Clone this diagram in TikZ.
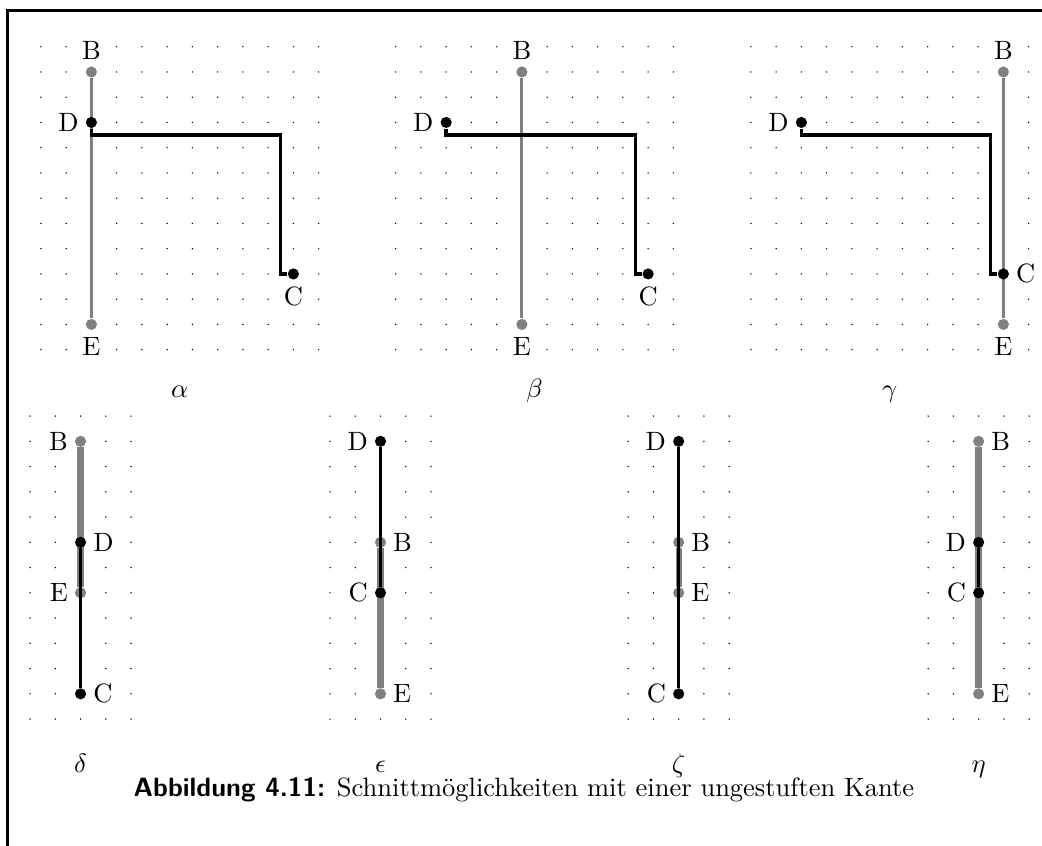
\documentclass[tikz,border=0pt]{standalone}
\usetikzlibrary{positioning}
\begin{document}
\begin{tikzpicture}[x=0.335cm,y=0.335cm,
    gpt/.style={circle,fill=gray,inner sep=0pt,minimum size=4.2pt},
    bpt/.style={circle,fill=black,inner sep=0pt,minimum size=4.2pt},
    lbl/.style={fill=white,inner sep=1pt},
    edge/.style={gray,line width=1.2pt},
    thickedge/.style={gray,line width=2.4pt},
    cut/.style={black,line width=1.25pt}]
  \useasboundingbox (0,0) rectangle (41.27,-33.5);
  \draw[line width=1.1pt] (0.3,-33.5) |- (41.27,-0.42);
  % dot grids, 12 x 13 above and 5 x 13 below
  \foreach \x in {1.62,15.67,29.74}
    \foreach \i in {0,...,11}
      \foreach \j in {0,...,12}
        \fill (\x+\i,-1.85-\j) circle (0.3pt);
  \foreach \x in {1.19,13.07,24.88,36.76}
    \foreach \i in {0,...,4}
      \foreach \j in {0,...,12}
        \fill (\x+\i,-16.48-\j) circle (0.3pt);
  % alpha
  \begin{scope}[shift={(1.62,-1.85)}]
    \node[gpt] (aB) at (2,-1) {};
    \node[gpt] (aE) at (2,-11) {};
    \draw[edge] (aB) -- (aE);
    \node[bpt] (aD) at (2,-3) {};
    \node[bpt] (aC) at (10,-9) {};
    \draw[cut] (aD) -- ++(0,-0.5) -| ([xshift=-0.1675cm]aC.center) -- (aC);
    \node[lbl,above=1.3pt of aB] (aBl) {B};
    \node[lbl,below=1.3pt of aE] (aEl) {E};
    \node[lbl,left=1.3pt of aD] (aDl) {D};
    \node[lbl,below=1.3pt of aC] (aCl) {C};
    \node[anchor=base] (alpha) at (5.5,-13.91) {$\alpha$};
  \end{scope}
  % beta
  \begin{scope}[shift={(15.67,-1.85)}]
    \node[gpt] (bB) at (5,-1) {};
    \node[gpt] (bE) at (5,-11) {};
    \draw[edge] (bB) -- (bE);
    \node[bpt] (bD) at (2,-3) {};
    \node[bpt] (bC) at (10,-9) {};
    \draw[cut] (bD) -- ++(0,-0.5) -| ([xshift=-0.1675cm]bC.center) -- (bC);
    \node[lbl,above=1.3pt of bB] (bBl) {B};
    \node[lbl,below=1.3pt of bE] (bEl) {E};
    \node[lbl,left=1.3pt of bD] (bDl) {D};
    \node[lbl,below=1.3pt of bC] (bCl) {C};
    \node[anchor=base] (beta) at (5.5,-13.91) {$\beta$};
  \end{scope}
  % gamma
  \begin{scope}[shift={(29.74,-1.85)}]
    \node[gpt] (gB) at (10,-1) {};
    \node[gpt] (gE) at (10,-11) {};
    \draw[edge] (gB) -- (gE);
    \node[bpt] (gD) at (2,-3) {};
    \node[bpt] (gC) at (10,-9) {};
    \draw[cut] (gD) -- ++(0,-0.5) -| ([xshift=-0.1675cm]gC.center) -- (gC);
    \node[lbl,above=1.3pt of gB] (gBl) {B};
    \node[lbl,below=1.3pt of gE] (gEl) {E};
    \node[lbl,left=1.3pt of gD] (gDl) {D};
    \node[lbl,right=1.3pt of gC] (gCl) {C};
    \node[anchor=base] (gamma) at (5.5,-13.91) {$\gamma$};
  \end{scope}
  % delta
  \begin{scope}[shift={(1.19,-16.48)}]
    \node[gpt] (dB) at (2,-1) {};
    \node[gpt] (dE) at (2,-7) {};
    \draw[thickedge] (dB) -- (dE);
    \node[bpt] (dD) at (2,-5) {};
    \node[bpt] (dC) at (2,-11) {};
    \draw[cut] (dD) -- (dC);
    \node[lbl,left=1.3pt of dB] (dBl) {B};
    \node[lbl,right=1.3pt of dD] (dDl) {D};
    \node[lbl,left=1.3pt of dE] (dEl) {E};
    \node[lbl,right=1.3pt of dC] (dCl) {C};
    \node[anchor=base] (delta) at (2,-14.1) {$\delta$};
  \end{scope}
  % epsilon
  \begin{scope}[shift={(13.07,-16.48)}]
    \node[gpt] (eB) at (2,-5) {};
    \node[gpt] (eE) at (2,-11) {};
    \draw[thickedge] (eB) -- (eE);
    \node[bpt] (eD) at (2,-1) {};
    \node[bpt] (eC) at (2,-7) {};
    \draw[cut] (eD) -- (eC);
    \node[lbl,left=1.3pt of eD] (eDl) {D};
    \node[lbl,right=1.3pt of eB] (eBl) {B};
    \node[lbl,left=1.3pt of eC] (eCl) {C};
    \node[lbl,right=1.3pt of eE] (eEl) {E};
    \node[anchor=base] (epsilon) at (2,-14.1) {$\epsilon$};
  \end{scope}
  % zeta
  \begin{scope}[shift={(24.88,-16.48)}]
    \node[gpt] (zB) at (2,-5) {};
    \node[gpt] (zE) at (2,-7) {};
    \draw[thickedge] (zB) -- (zE);
    \node[bpt] (zD) at (2,-1) {};
    \node[bpt] (zC) at (2,-11) {};
    \draw[cut] (zD) -- (zC);
    \node[lbl,left=1.3pt of zD] (zDl) {D};
    \node[lbl,right=1.3pt of zB] (zBl) {B};
    \node[lbl,right=1.3pt of zE] (zEl) {E};
    \node[lbl,left=1.3pt of zC] (zCl) {C};
    \node[anchor=base] (zeta) at (2,-14.1) {$\zeta$};
  \end{scope}
  % eta
  \begin{scope}[shift={(36.76,-16.48)}]
    \node[gpt] (hB) at (2,-1) {};
    \node[gpt] (hE) at (2,-11) {};
    \draw[thickedge] (hB) -- (hE);
    \node[bpt] (hD) at (2,-5) {};
    \node[bpt] (hC) at (2,-7) {};
    \draw[cut] (hD) -- (hC);
    \node[lbl,right=1.3pt of hB] (hBl) {B};
    \node[lbl,left=1.3pt of hD] (hDl) {D};
    \node[lbl,left=1.3pt of hC] (hCl) {C};
    \node[lbl,right=1.3pt of hE] (hEl) {E};
    \node[anchor=base] (eta) at (2,-14.1) {$\eta$};
  \end{scope}
  \node[anchor=base] (caption) at (20.75,-31.56)
    {\textsf{\bfseries Abbildung 4.11:} Schnittmöglichkeiten mit einer ungestuften Kante};
\end{tikzpicture}
\end{document}
